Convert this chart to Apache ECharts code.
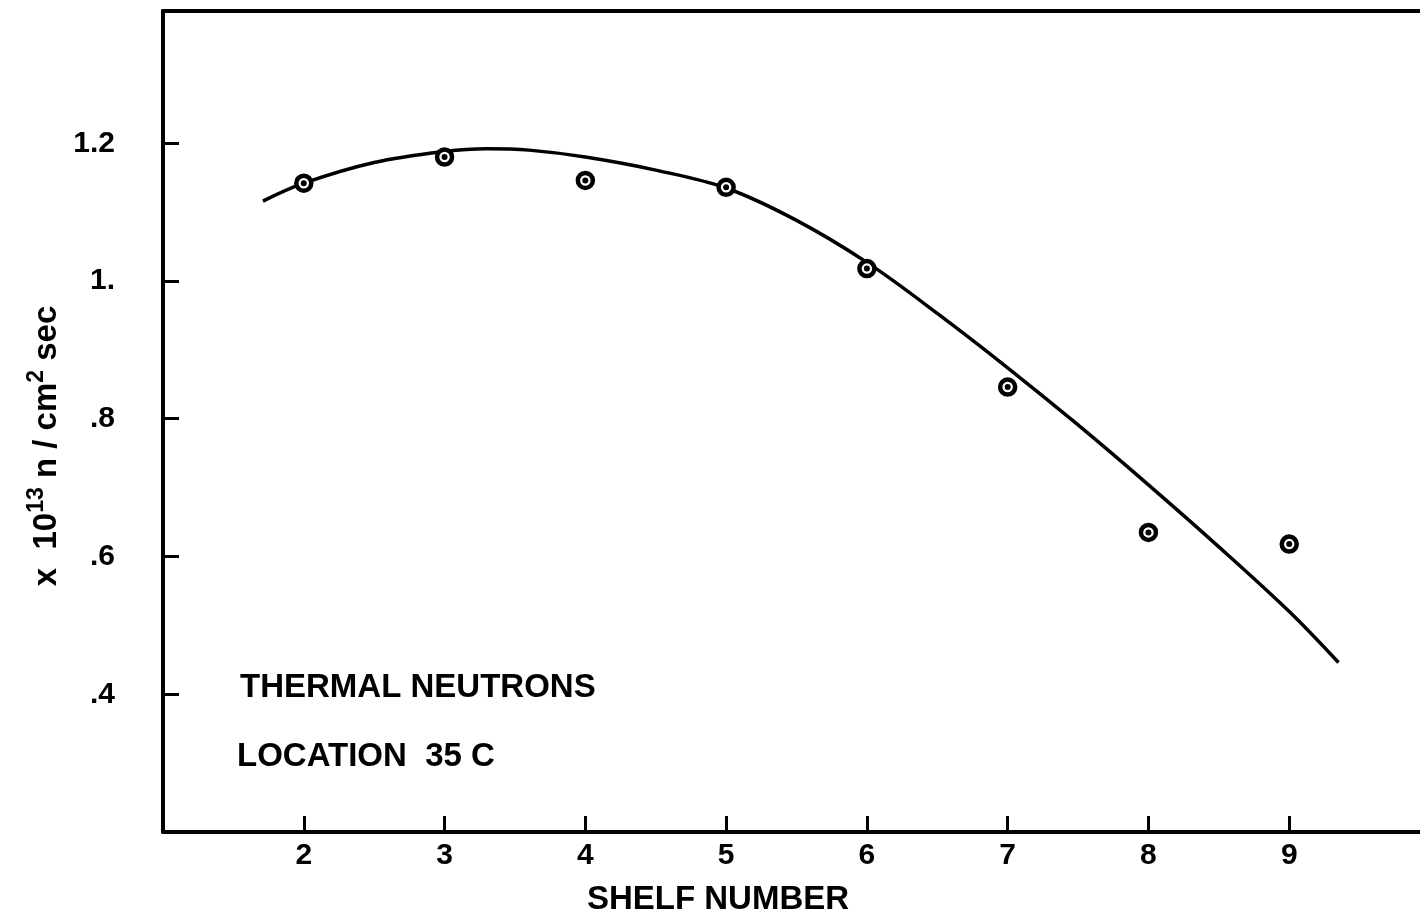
<!DOCTYPE html>
<html>
<head>
<meta charset="utf-8">
<script src="https://cdn.jsdelivr.net/npm/echarts@6/dist/echarts.min.js"></script>
<style>
html,body{margin:0;padding:0;background:#fff;}
#chart{width:1420px;height:921px;}
</style>
</head>
<body>
<div id="chart"></div>
<script>
// Measured data points (shelf number, flux x10^13 n/cm^2 sec)
var shelves = [2, 3, 4, 5, 6, 7, 8, 9];
var flux = [1.142, 1.180, 1.146, 1.136, 1.018, 0.846, 0.635, 0.618];

// Hand-drawn fitted curve
var curveX = [1.71, 2.0, 2.5, 3.0, 3.3, 3.6, 4.0, 4.5, 5.0, 5.5, 6.0, 6.5, 7.0, 7.5, 8.0, 8.5, 9.0, 9.35];
var curveY = [1.116, 1.142, 1.172, 1.188, 1.192, 1.190, 1.180, 1.161, 1.135, 1.088, 1.027, 0.953, 0.874, 0.791, 0.704, 0.614, 0.520, 0.446];

// Tick labels
var xTickValues = [2, 3, 4, 5, 6, 7, 8, 9];
var xTickLabels = ['2', '3', '4', '5', '6', '7', '8', '9'];
var yTickValues = [0.4, 0.6, 0.8, 1.0, 1.2];
var yTickLabels = ['.4', '.6', '.8', '1.', '1.2'];

var annotation1 = 'THERMAL NEUTRONS';
var annotation2 = 'LOCATION  35 C';
var xTitle = 'SHELF NUMBER';

var FONT = '"Liberation Sans", Arial, sans-serif';

var pts = shelves.map(function (s, i) { return [s, flux[i]]; });
var curve = curveX.map(function (x, i) { return [x, curveY[i]]; });

function lookup(values, labels, v) {
  for (var i = 0; i < values.length; i++) {
    if (Math.abs(values[i] - v) < 1e-6) return labels[i];
  }
  return '';
}

var chart = echarts.init(document.getElementById('chart'), null, {renderer: 'canvas'});
chart.setOption({
  backgroundColor: '#ffffff',
  animation: false,
  grid: {left: 163, width: 1267, top: 11, height: 821, containLabel: false, outerBoundsMode: 'none'},
  xAxis: [{
    type: 'value', min: 1, max: 10, interval: 1,
    axisLine: {show: true, lineStyle: {color: '#000', width: 4}},
    axisTick: {show: true, inside: true, length: 16, lineStyle: {color: '#000', width: 3}},
    axisLabel: {
      margin: 9, color: '#000', fontFamily: FONT, fontWeight: 'bold', fontSize: 30,
      formatter: function (v) { return lookup(xTickValues, xTickLabels, v); }
    },
    splitLine: {show: false}
  }, {
    type: 'value', position: 'top', min: 1, max: 10,
    axisLine: {show: true, lineStyle: {color: '#000', width: 4}},
    axisTick: {show: false}, axisLabel: {show: false}, splitLine: {show: false}
  }],
  yAxis: {
    type: 'value', min: 0.2, max: 1.392, interval: 0.2,
    axisLine: {show: true, lineStyle: {color: '#000', width: 4}},
    axisTick: {show: true, inside: true, length: 16, lineStyle: {color: '#000', width: 3}},
    axisLabel: {
      margin: 48, color: '#000', fontFamily: FONT, fontWeight: 'bold', fontSize: 30,
      formatter: function (v) { return lookup(yTickValues, yTickLabels, Math.round(v * 10) / 10); }
    },
    splitLine: {show: false}
  },
  series: [{
    type: 'line', data: curve, smooth: 0.35, showSymbol: false,
    lineStyle: {color: '#000', width: 3.5}, z: 2
  }, {
    type: 'scatter', data: pts, symbol: 'circle', symbolSize: 15,
    itemStyle: {color: '#fff', borderColor: '#000', borderWidth: 4.5, opacity: 1}, z: 3
  }, {
    type: 'scatter', data: pts, symbol: 'circle', symbolSize: 6,
    itemStyle: {color: '#000', opacity: 1}, z: 4
  }],
  graphic: [{
    type: 'text', left: 240, top: 671,
    style: {text: annotation1, font: 'bold 33px ' + FONT, fill: '#000'}
  }, {
    type: 'text', left: 237, top: 740,
    style: {text: annotation2, font: 'bold 33px ' + FONT, fill: '#000'}
  }, {
    type: 'text', x: 718, y: 900,
    style: {text: xTitle, font: 'bold 33px ' + FONT, fill: '#000', textAlign: 'center', textVerticalAlign: 'middle'}
  }, {
    type: 'text', x: 44, y: 446, rotation: Math.PI / 2,
    style: {
      text: '{m|x  10}{s|13}{m| n / cm}{s|2}{m| sec}',
      textAlign: 'center', textVerticalAlign: 'middle', fill: '#000',
      rich: {
        m: {font: 'bold 33px ' + FONT, fill: '#000', lineHeight: 38, verticalAlign: 'bottom'},
        s: {font: 'bold 23px ' + FONT, fill: '#000', lineHeight: 38, verticalAlign: 'top', padding: [0, 0, 12, 0]}
      }
    }
  }]
});
</script>
</body>
</html>
